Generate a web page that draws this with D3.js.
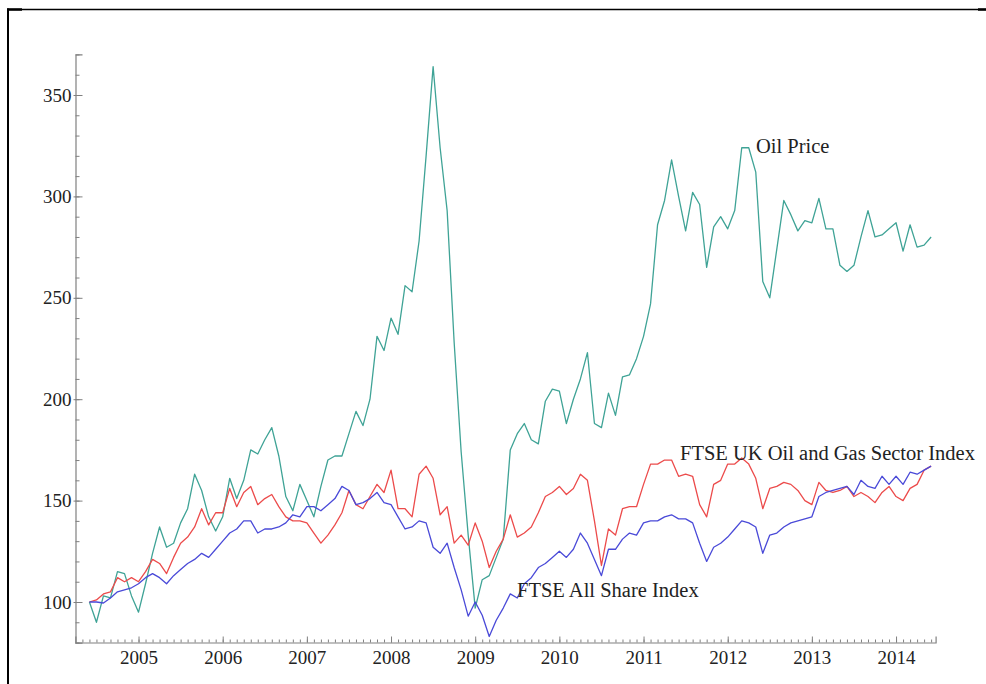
<!DOCTYPE html>
<html><head><meta charset="utf-8">
<script src="https://cdn.jsdelivr.net/npm/d3@7"></script>
<style>
html,body{margin:0;padding:0;background:#fff;}
svg{display:block;}
.tick text{font-family:"Liberation Serif","Times New Roman",serif;font-size:19px;fill:#222;}
</style></head><body>
<svg id="chart" width="986" height="684"></svg>
<script>
// ---- data (monthly, June 2004 – June 2014) ----
const startYear = 2004, startMonth = 5; // June 2004 (0-based month)
const oilPrice = [100,90,103,102,115,114,103,95,109,124,137,127,129,139,146,163,155,142,135,142,
161,151,160,175,173,180,186,172,152,145,158,150,142,157,170,172,172,183,194,187,
200,231,224,240,232,256,253,278,320,364,324,293,228,174,133,97,111,113,122,131,
175,183,188,180,178,199,205,204,188,200,210,223,188,186,203,192,211,212,220,231,
247,286,298,318,300,283,302,296,265,285,290,284,293,324,324,312,258,250,274,298,
291,283,288,287,299,284,284,266,263,266,280,293,280,281,284,287,273,286,275,276,280];
const ftseOilGas = [100,101,104,105,112,110,112,110,115,121,119,114,122,129,132,137,146,138,144,144,
156,147,154,157,148,151,153,147,142,140,140,139,134,129,133,138,144,155,148,146,
152,158,154,165,146,146,142,163,167,161,143,147,129,133,128,139,130,117,125,131,
143,132,134,137,144,152,154,157,153,156,163,160,140,118,136,133,146,147,147,158,
168,168,170,170,162,163,162,148,142,158,160,168,168,171,168,161,146,156,157,159,
158,155,150,148,159,155,154,155,157,152,154,152,149,154,157,152,150,156,158,165,167];
const ftseAllShare = [100,100,99.5,102,105,106,107,109,112,114,112,109,113,116,119,121,124,122,126,130,
134,136,140,140,134,136,136,137,139,143,142,147,147,145,148,151,157,155,148,149,
151,154,149,148,142,136,137,140,139,127,124,129,117,106,93,100,93.5,83,91,97,
104,102,109,112,117,119,122,125,122,126,134,129,121,113,126,126,131,134,133,139,
140,140,142,143,141,141,139,129,120,127,129,132,136,140,139,137,124,133,134,137,
139,140,141,142,152,154,155,156,157,153,160,157,156,162,158,162,158,164,163,165,167];
const yearTicks = [2005,2006,2007,2008,2009,2010,2011,2012,2013,2014];
const yMajorTicks = [100,150,200,250,300,350];
const seriesNames = ["Oil Price","FTSE UK Oil and Gas Sector Index","FTSE All Share Index"];
const seriesColors = ["#3fa396","#ec4b4b","#4a4ad8"];

const t = oilPrice.map((_, i) => startYear + (startMonth + i) / 12);

const svg = d3.select("#chart");
const x = d3.scaleLinear().domain([2004.25, 2014.47]).range([75.4, 935.6]);
const y = d3.scaleLinear().domain([80, 370]).range([642.56, 54.44]);

// frame
svg.append("line").attr("x1",8).attr("x2",986).attr("y1",9.5).attr("y2",9.5).attr("stroke","#000").attr("stroke-width",1.3);
svg.append("line").attr("x1",8).attr("x2",8).attr("y1",8.5).attr("y2",684).attr("stroke","#000").attr("stroke-width",2);
svg.append("line").attr("x1",7).attr("x2",22).attr("y1",9.5).attr("y2",9.5).attr("stroke","#000").attr("stroke-width",2.5);
svg.append("line").attr("x1",978).attr("x2",986).attr("y1",9.5).attr("y2",9.5).attr("stroke","#000").attr("stroke-width",2.5);

const axisColor = "#808080";
// minor ticks
const monthTicks = d3.range(0, 123).map(i => 2004 + (4 + i) / 12).filter(v => v <= 2014.46);
const gxm = svg.append("g").attr("transform","translate(0,642.5)")
  .call(d3.axisBottom(x).tickValues(monthTicks).tickSize(-3).tickFormat(""));
gxm.select(".domain").remove();
const gx = svg.append("g").attr("transform","translate(0,642.5)")
  .call(d3.axisBottom(x).tickValues(yearTicks).tickSize(-6).tickPadding(8).tickFormat(d3.format("d")));
const yMinor = d3.range(80, 371, 10);
const gym = svg.append("g").attr("transform","translate(75.5,0)")
  .call(d3.axisLeft(y).tickValues(yMinor).tickSize(-4).tickFormat(""));
gym.select(".domain").remove();
const gy = svg.append("g").attr("transform","translate(75.5,0)")
  .call(d3.axisLeft(y).tickValues(yMajorTicks).tickSize(-7).tickPadding(4).tickFormat(d3.format("d")));
[gx,gy,gxm,gym].forEach(g => { g.selectAll("line").attr("stroke",axisColor); g.selectAll(".domain").attr("stroke",axisColor).attr("stroke-width",1.2); });
gy.selectAll(".tick line").attr("x1",-2);

// lines
const allSeries = [oilPrice, ftseOilGas, ftseAllShare];
const line = d3.line().x((d,i) => x(t[i])).y(d => y(d));
allSeries.forEach((s, k) => {
  svg.append("path").datum(s).attr("d", line).attr("fill","none")
    .attr("stroke", seriesColors[k]).attr("stroke-width",1.3).attr("stroke-linejoin","round");
});

// labels
const labelPos = [[756,153],[680,460],[517,597]];
seriesNames.forEach((n, k) => {
  svg.append("text").attr("x", labelPos[k][0]).attr("y", labelPos[k][1]).text(n)
    .attr("font-family","Liberation Serif, Times New Roman, serif").attr("font-size","20.5px").attr("fill","#222");
});
</script></body></html>
